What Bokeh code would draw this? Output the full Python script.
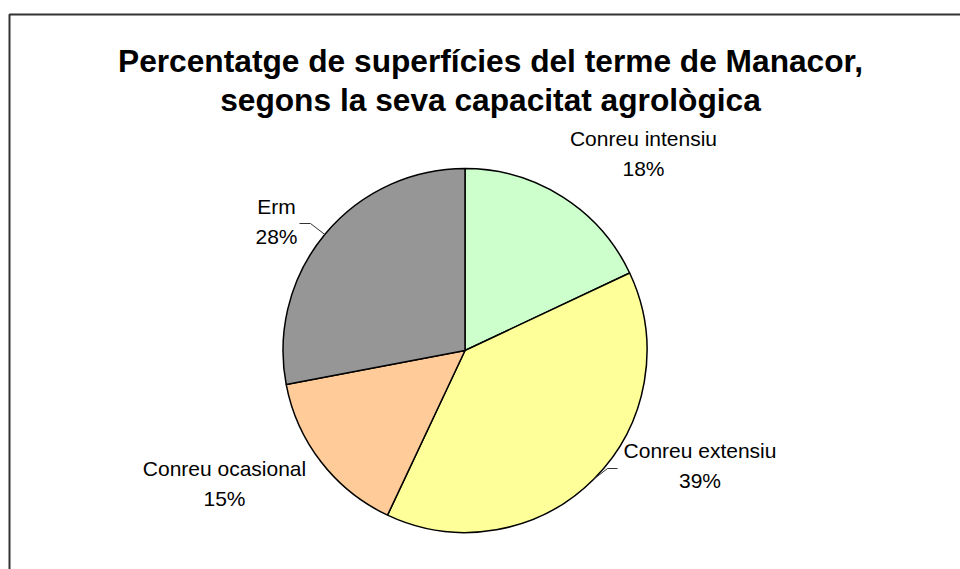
import math
from bokeh.plotting import figure
from bokeh.models import Range1d, ColumnDataSource
from bokeh.core.properties import value
from bokeh.embed import file_html
from bokeh.resources import INLINE

# ---- data ----
categories = ["Conreu intensiu", "Conreu extensiu", "Conreu ocasional", "Erm"]
percents = [18, 39, 15, 28]
colors = ["#CCFFCC", "#FFFF99", "#FFCC99", "#969696"]
title_lines = ["Percentatge de superfícies del terme de Manacor,",
               "segons la seva capacitat agrològica"]

# ---- layout (page pixel positions) ----
W, H = 960, 569
def X(px):
    return px
def Y(py):
    return H - py

cx, cy, R = 464.5, 350.0, 182.0
# label centre x, baseline of first line (page px)
label_pos = {
    "Conreu intensiu": (643, 138),
    "Conreu extensiu": (699.5, 450),
    "Conreu ocasional": (224, 468),
    "Erm": (276, 206),
}
line_gap = 30
# leader lines: elbow and end points (page px) for labels that have them
leaders = {
    "Erm": [(310, 223), (299, 223)],
    "Conreu extensiu": [(607, 468), (617, 468)],
}

p = figure(width=W, height=H, x_range=Range1d(0, W), y_range=Range1d(0, H),
           output_backend="svg", toolbar_location=None, min_border=0)
p.axis.visible = False
p.grid.visible = False
p.outline_line_color = None
p.background_fill_color = "white"
p.border_fill_color = "white"

# chart border (top and left visible)
p.line(x=[X(9), X(9), W + 5], y=[-10, Y(14), Y(14)], line_color="#333333", line_width=2)

# pie
total = float(sum(percents))
starts, ends, mids = [], [], []
cum = 0.0
for v in percents:
    a0 = math.pi / 2 - 2 * math.pi * cum / total
    cum += v
    a1 = math.pi / 2 - 2 * math.pi * cum / total
    starts.append(a0)
    ends.append(a1)
    mids.append((a0 + a1) / 2)

src = ColumnDataSource(dict(cat=categories, pct=percents, color=colors,
                            start=starts, end=ends))
p.wedge(x=X(cx), y=Y(cy), radius=R, start_angle="start", end_angle="end",
        direction="clock", fill_color="color", line_color="black",
        line_width=1.5, source=src)

# leader lines
for cat, pts in leaders.items():
    i = categories.index(cat)
    m = mids[i]
    sx = X(cx) + R * math.cos(m)
    sy = Y(cy) + R * math.sin(m)
    xs = [sx] + [X(a) for a, b in pts]
    ys = [sy] + [Y(b) for a, b in pts]
    p.line(x=xs, y=ys, line_color="#333333", line_width=1)

# labels
lx, ly, lt = [], [], []
for cat, v in zip(categories, percents):
    x0, y0 = label_pos[cat]
    lx += [X(x0), X(x0)]
    ly += [Y(y0), Y(y0 + line_gap)]
    lt += [cat, f"{v}%"]
p.text(x=lx, y=ly, text=lt, text_align="center", text_baseline="alphabetic",
       text_font=value("Liberation Sans"), text_font_size="21px",
       text_color="black")

# title
p.text(x=[X(490), X(490)], y=[Y(60), Y(99)], text=title_lines,
       text_align="center", text_baseline="alphabetic",
       text_font=value("Liberation Sans"), text_font_style="bold",
       text_font_size="31.7px", text_color="black")

open("out.html", "w").write(file_html(p, INLINE))
